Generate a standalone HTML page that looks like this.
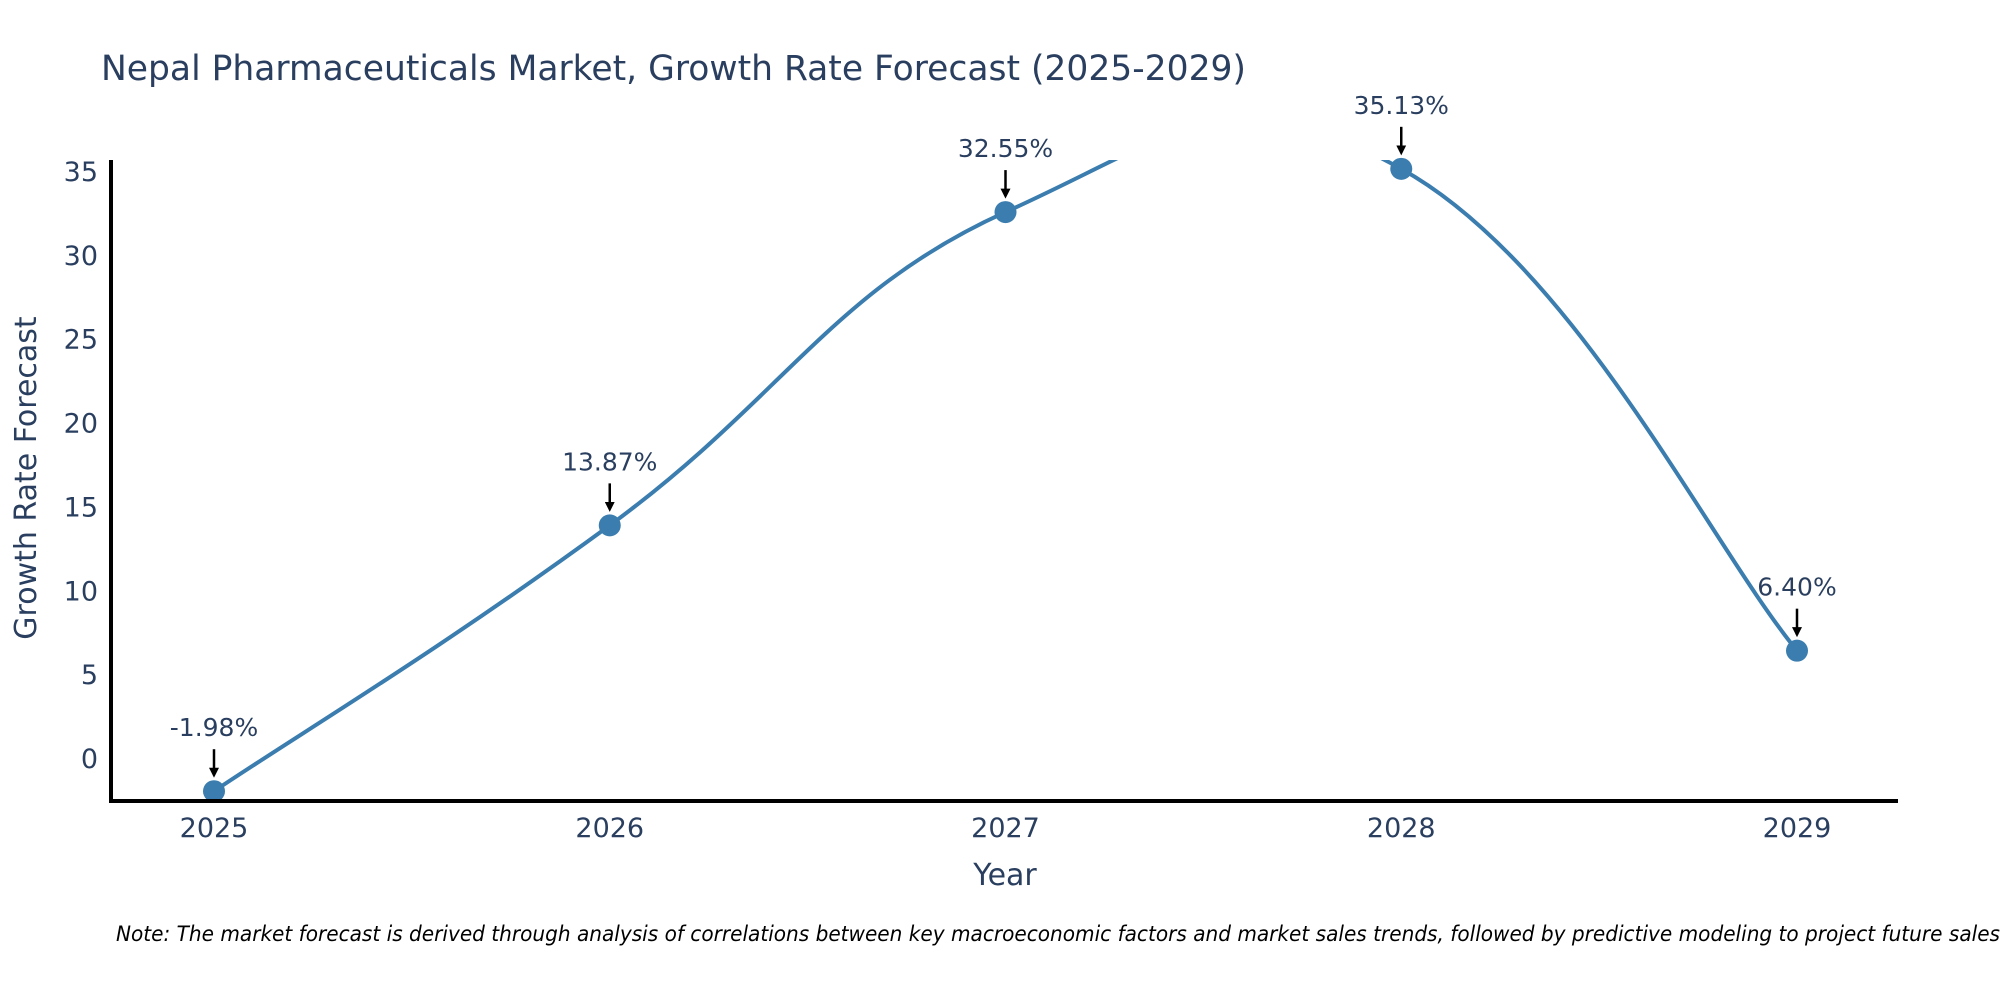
<!DOCTYPE html>
<html><head><meta charset="utf-8"><style>
body{margin:0;background:#fff;}
svg{display:block;font-family:"DejaVu Sans","Liberation Sans",sans-serif;}
</style></head><body>
<svg id="chart" width="2000" height="1000" viewBox="0 0 2000 1000">
<defs>
<clipPath id="plotclip"><rect x="111" y="160" width="1787" height="641"/></clipPath>
<marker id="arrowhead" markerWidth="4" markerHeight="4" refX="3" refY="2" orient="auto" markerUnits="strokeWidth"><path d="M0,0 L4,2 L0,4 Z" fill="#000"/></marker>
</defs>
<text x="101" y="80" font-size="34.5" fill="#2a3f5f">Nepal Pharmaceuticals Market, Growth Rate Forecast (2025-2029)</text>
<g id="yticks"></g>
<g id="xticks"></g>
<g id="series" clip-path="url(#plotclip)"></g>
<g id="points"></g>
<g id="annots"></g>
<line x1="111" y1="160" x2="111" y2="803" stroke="#000" stroke-width="4"/>
<line x1="109" y1="801" x2="1898" y2="801" stroke="#000" stroke-width="4"/>
<text transform="translate(36,478) rotate(-90)" text-anchor="middle" font-size="30" fill="#2a3f5f">Growth Rate Forecast</text>
<text x="1005" y="885" text-anchor="middle" font-size="30" fill="#2a3f5f">Year</text>
<text x="116" y="941" font-size="21" font-style="italic" fill="#000" textLength="1884" lengthAdjust="spacingAndGlyphs">Note: The market forecast is derived through analysis of correlations between key macroeconomic factors and market sales trends, followed by predictive modeling to project future sales</text>
</svg>
<script>
const years = [2025, 2026, 2027, 2028, 2029];
const growth = [-1.98, 13.87, 32.55, 35.13, 6.40];
const labels = ["-1.98%", "13.87%", "32.55%", "35.13%", "6.40%"];
const yTicks = [0, 5, 10, 15, 20, 25, 30, 35];

const NS = "http://www.w3.org/2000/svg";
function xs(v){ return 214 + (v - 2025) * (1797 - 214) / 4; }
function ys(v){ return 758 - v * (758 - 171) / 35; }
function mk(tag, attrs, parent){ const e = document.createElementNS(NS, tag); for (const k in attrs) e.setAttribute(k, attrs[k]); parent.appendChild(e); return e; }

const yg = document.getElementById('yticks');
yTicks.forEach(t => {
  const e = mk('text', {x: 98, y: ys(t) + 10, 'text-anchor': 'end', 'font-size': 27, fill: '#2a3f5f'}, yg);
  
  
  e.textContent = t;
});
const xg = document.getElementById('xticks');
years.forEach(y => {
  const e = mk('text', {x: xs(y), y: 837, 'text-anchor': 'middle', 'font-size': 27, fill: '#2a3f5f'}, xg);
  
  
  e.textContent = y;
});

const P = years.map((y, i) => [xs(y), ys(growth[i])]);
let d = `M${P[0][0]},${P[0][1]}`;
const s = 0.22;
for (let i = 0; i < P.length - 1; i++) {
  const p0 = P[Math.max(0, i - 1)], p1 = P[i], p2 = P[i + 1], p3 = P[Math.min(P.length - 1, i + 2)];
  const c1 = [p1[0] + (p2[0] - p0[0]) * s, p1[1] + (p2[1] - p0[1]) * s];
  const c2 = [p2[0] - (p3[0] - p1[0]) * s, p2[1] - (p3[1] - p1[1]) * s];
  d += ` C${c1[0]},${c1[1]} ${c2[0]},${c2[1]} ${p2[0]},${p2[1]}`;
}
const line = mk('path', {d: d, fill: 'none', stroke: '#3a7dae', 'stroke-width': 4}, document.getElementById('series'));



const pg = document.getElementById('points');
const ag = document.getElementById('annots');
P.forEach((p, i) => {
  const c = mk('circle', {cx: p[0], cy: p[1], r: 11, fill: '#3a7dae'}, pg);
  
  
  const a = mk('line', {x1: p[0], y1: p[1] - 42, x2: p[0], y2: p[1] - 16, stroke: '#000', 'stroke-width': 2.5, 'marker-end': 'url(#arrowhead)'}, ag);
  
  
  const t = mk('text', {x: p[0], y: p[1] - 55, 'text-anchor': 'middle', 'font-size': 25, fill: '#2a3f5f'}, ag);
  
  
  t.textContent = labels[i];
});
</script>
</body></html>
